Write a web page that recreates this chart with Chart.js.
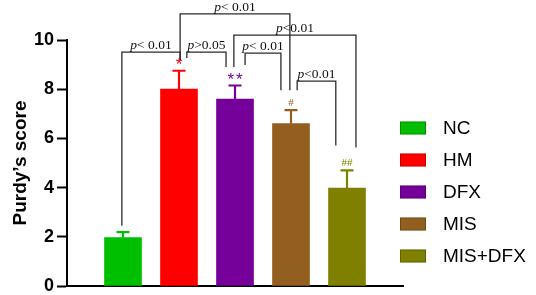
<!DOCTYPE html>
<html><head><meta charset="utf-8">
<script src="https://cdn.jsdelivr.net/npm/chart.js@4/dist/chart.umd.min.js"></script>
<style>html,body{margin:0;padding:0;background:#fff}#wrap{width:536px;height:295px;position:relative}</style>
</head><body><div id="wrap"><canvas id="c"></canvas></div>
<script>
// ---- data ----
const groups = ['NC', 'HM', 'DFX', 'MIS', 'MIS+DFX'];
const groupPos = [1, 2, 3, 4, 5];
const means = [1.97, 8.0, 7.6, 6.6, 3.98];
const errors = [0.22, 0.75, 0.55, 0.55, 0.72];
const marks = ['', '*', '**', '#', '##'];
const colors = ['#00BF00', '#FF0000', '#75009A', '#935F20', '#808000'];
const yTicks = [0, 2, 4, 6, 8, 10];
// significance brackets (data units): left x, right x, top y, left leg end y, right leg end y, label
const brXL = [0.98, 2.02, 2.14, 2.98, 3.18, 4.11];
const brXR = [2.02, 3.98, 2.84, 5.16, 3.82, 4.80];
const brTop = [9.51, 11.06, 9.51, 10.2, 9.47, 8.33];
const brYL = [2.45, 9.18, 9.27, 8.9, 8.98, 7.96];
const brYR = [9.18, 7.96, 8.9, 5.63, 7.96, 5.71];
const brLabel = ['p< 0.01', 'p< 0.01', 'p>0.05', 'p<0.01', 'p< 0.01', 'p<0.01'];

const barData = groupPos.map((x, i) => ({x: x, y: means[i]}));
const bracketSets = brXL.map((xl, i) => ({
  type: 'line',
  data: [{x: xl, y: brYL[i]}, {x: xl, y: brTop[i]}, {x: brXR[i], y: brTop[i]}, {x: brXR[i], y: brYR[i]}],
  borderColor: '#2b2b2b', borderWidth: 1.3, pointRadius: 0, tension: 0, fill: false,
  clip: false, order: 5, _label: brLabel[i]
}));

const extras = {
  id: 'extras',
  afterDatasetsDraw(chart) {
    const ctx = chart.ctx;
    const ys = chart.scales.y, xs = chart.scales.x;
    const meta = chart.getDatasetMeta(0);
    ctx.save();
    // error bars + marks
    meta.data.forEach((bar, i) => {
      const x = bar.x;
      const y0 = ys.getPixelForValue(means[i]);
      const y1 = ys.getPixelForValue(means[i] + errors[i]);
      ctx.strokeStyle = colors[i];
      ctx.lineWidth = 2.2;
      ctx.beginPath();
      ctx.moveTo(x, y0); ctx.lineTo(x, y1);
      ctx.moveTo(x - 6.5, y1); ctx.lineTo(x + 6.5, y1);
      ctx.stroke();
      const m = marks[i];
      if (m) {
        ctx.fillStyle = colors[i];
        ctx.textAlign = 'center';
        ctx.textBaseline = 'alphabetic';
        if (m[0] === '*') {
          ctx.font = '17px "Liberation Sans", Arial, sans-serif';
          const pitch = 8.5;
          for (let k = 0; k < m.length; k++) {
            ctx.fillText(m[k], x + (k - (m.length - 1) / 2) * pitch, y1 - 1);
          }
        } else {
          ctx.font = '11px "Liberation Serif", "Times New Roman", serif';
          ctx.fillText(m, x, y1 - 4);
        }
      }
    });
    // bracket labels
    chart.data.datasets.forEach((ds) => {
      if (!ds._label) return;
      const px1 = xs.getPixelForValue(ds.data[1].x);
      const px2 = xs.getPixelForValue(ds.data[2].x);
      const py = ys.getPixelForValue(ds.data[1].y);
      const lab = ds._label;
      const pPart = 'p', rest = lab.slice(1);
      ctx.fillStyle = '#111';
      ctx.textBaseline = 'alphabetic';
      ctx.textAlign = 'left';
      ctx.font = 'italic 13.5px "Liberation Serif", "Times New Roman", serif';
      const w1 = ctx.measureText(pPart).width;
      ctx.font = '13.5px "Liberation Serif", "Times New Roman", serif';
      const w2 = ctx.measureText(rest).width;
      const cx = (px1 + px2) / 2;
      let sx = cx - (w1 + w2) / 2;
      ctx.font = 'italic 13.5px "Liberation Serif", "Times New Roman", serif';
      ctx.fillText(pPart, sx, py - 3);
      ctx.font = '13.5px "Liberation Serif", "Times New Roman", serif';
      ctx.fillText(rest, sx + w1, py - 3);
    });
    // legend
    const lx = chart.chartArea.right - 3;
    const ly0 = 128, step = 32;
    groups.forEach((g, i) => {
      const cy = ly0 + i * step;
      ctx.fillStyle = colors[i];
      ctx.fillRect(lx, cy - 6.5, 26, 13);
      ctx.strokeStyle = 'rgba(0,0,0,0.25)';
      ctx.lineWidth = 1;
      ctx.strokeRect(lx + 0.5, cy - 6, 25, 12);
      ctx.fillStyle = '#000';
      ctx.font = '19px "Liberation Sans", Arial, sans-serif';
      ctx.textAlign = 'left';
      ctx.textBaseline = 'middle';
      ctx.fillText(g, lx + 43, cy + 1);
    });
    ctx.restore();
  }
};

new Chart(document.getElementById('c'), {
  type: 'bar',
  data: {
    datasets: [{
      type: 'bar',
      data: barData,
      backgroundColor: colors,
      borderColor: colors,
      borderWidth: 0,
      barThickness: 37,
      order: 1
    }, ...bracketSets]
  },
  options: {
    responsive: true,
    maintainAspectRatio: false,
    animation: false,
    layout: {padding: {top: 40, right: 133, bottom: 9, left: 0}},
    plugins: {legend: {display: false}, tooltip: {enabled: false}},
    scales: {
      x: {
        type: 'linear', min: 0, max: 6, offset: false,
        ticks: {display: false},
        grid: {display: false, drawTicks: false},
        border: {display: true, color: '#000', width: 2}
      },
      y: {
        min: 0, max: 10,
        afterBuildTicks(scale) { scale.ticks = yTicks.map(v => ({value: v})); },
        afterFit(scale) { scale.width = 67; scale.paddingBottom = 0; scale.paddingTop = 0; },
        ticks: {color: '#000', padding: 3, font: {family: '"Liberation Sans", Arial, sans-serif', size: 18, weight: 'bold'}},
        grid: {display: true, drawOnChartArea: false, drawTicks: true, tickLength: 10, tickColor: '#000', tickWidth: 2},
        border: {display: true, color: '#000', width: 2},
        title: {display: true, text: 'Purdy\u2019s score', color: '#000', padding: {top: 9, bottom: 0},
          font: {family: '"Liberation Sans", Arial, sans-serif', size: 19, weight: 'bold'}}
      }
    }
  },
  plugins: [extras]
});
</script>
</body></html>
